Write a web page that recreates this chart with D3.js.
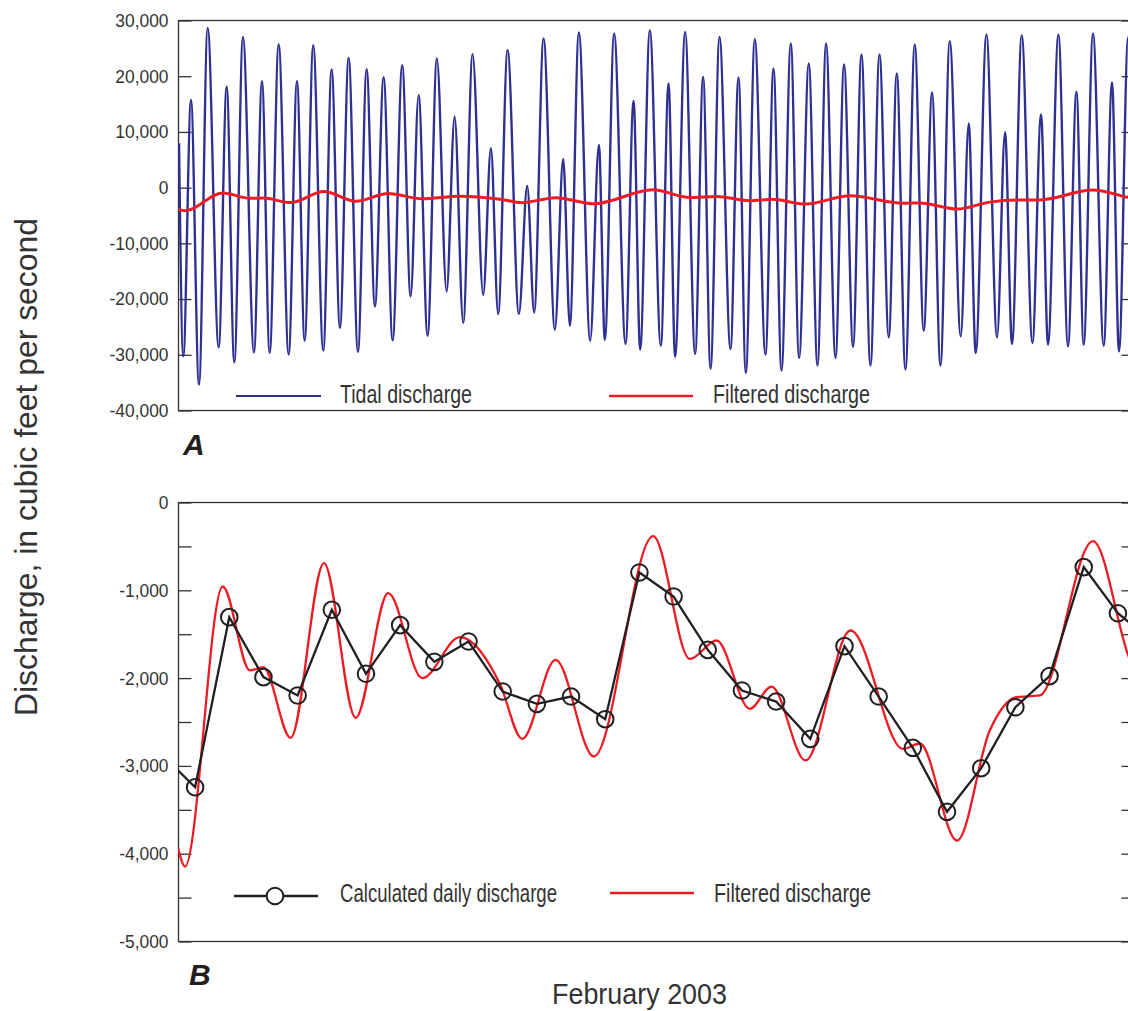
<!DOCTYPE html>
<html>
<head>
<meta charset="utf-8">
<script src="https://cdn.jsdelivr.net/npm/d3@7"></script>
<style>
  body { margin: 0; background: #fff; }
  svg { display: block; }
  text { font-family: "Liberation Sans", Arial, sans-serif; fill: #333; }
</style>
</head>
<body>
<script>
// tidal discharge, highs and lows (days after Feb 1 00:00, ft3/s)
const tideDay = [0.03, 0.155, 0.38, 0.614, 0.869, 1.19, 1.424, 1.647, 1.901, 2.223, 2.457, 2.682, 2.945, 3.238, 3.481, 3.706, 3.957, 4.25, 4.495, 4.738, 4.993, 5.265, 5.519, 5.762, 6.016, 6.28, 6.56, 6.806, 7.04, 7.303, 7.575, 7.859, 8.093, 8.345, 8.619, 8.93, 9.155, 9.368, 9.643, 9.974, 10.217, 10.421, 10.696, 11.027, 11.27, 11.465, 11.729, 12.06, 12.314, 12.489, 12.761, 13.095, 13.329, 13.522, 13.805, 14.127, 14.352, 14.545, 14.838, 15.13, 15.364, 15.581, 15.844, 16.165, 16.399, 16.613, 16.876, 17.189, 17.423, 17.657, 17.929, 18.172, 18.456, 18.71, 18.962, 19.237, 19.488, 19.751, 19.997, 20.26, 20.524, 20.796, 21.03, 21.284, 21.556, 21.819, 22.062, 22.308, 22.58, 22.902, 23.135, 23.34, 23.653, 23.963, 24.197, 24.402, 24.686, 24.999, 25.25, 25.455, 25.759, 26.04, 26.286, 26.499, 26.771, 27.084, 27.327, 27.532, 27.8, 28.1]
const tideQ = [7960, -30290, 15720, -35360, 28670, -28670, 18100, -31360, 27060, -29570, 19120, -29680, 25750, -29980, 19120, -27470, 25570, -29260, 21220, -25200, 23300, -29500, 21270, -21320, 19840, -27420, 21990, -19530, 16610, -26580, 23190, -18640, 12720, -24300, 23960, -19230, 7060, -22690, 24680, -22690, 300, -22400, 26770, -25500, 5140, -24780, 27850, -27470, 7650, -27290, 27670, -28060, 15540, -29080, 28260, -28370, 18710, -30390, 27960, -29860, 19890, -32490, 27060, -28960, 19780, -33260, 26650, -29980, 21400, -32850, 25880, -30570, 22290, -31950, 25880, -30570, 22110, -28600, 23900, -31950, 23900, -26880, 20500, -32670, 25700, -25680, 17100, -31950, 26290, -26700, 11540, -29680, 27490, -26880, 9930, -28060, 27360, -27880, 13150, -28190, 27490, -28490, 17200, -28190, 27670, -28370, 18890, -29390, 27000, -29000]

// filtered discharge, turning points
const filtDay = [0.01, 0.205, 1.307, 2.106, 2.495, 3.296, 4.27, 5.197, 6.151, 7.145, 8.248, 9.418, 10.07, 11.047, 12.167, 13.902, 14.975, 15.756, 16.73, 17.365, 18.359, 19.676, 21.214, 21.703, 22.793, 23.75, 24.53, 25.212, 26.771, 27.786, 28.1]
const filtQ = [-3945, -4146, -957, -1913, -1876, -2680, -691, -2452, -1033, -2001, -1534, -2065, -2692, -1792, -2893, -384, -1781, -1572, -2350, -2096, -2938, -1458, -2806, -2745, -3850, -2597, -2218, -2198, -441, -1723, -2050]

// calculated daily discharge, Feb 1 .. Feb 28 (plotted at noon)
const dailyQ = [-3243, -1306, -1989, -2198, -1222, -1951, -1397, -1815, -1583, -2153, -2293, -2210, -2468, -797, -1071, -1678, -2141, -2267, -2692, -1636, -2210, -2794, -3523, -3026, -2332, -1977, -736, -1261]
const jan31Q = -2860
const mar1Q = -1582

const topTicks = [30000, 20000, 10000, 0, -10000, -20000, -30000, -40000]
const botTicks = d3.range(0, -5001, -500)

const W = 1128, H = 1011
const X0 = 178, X1 = 1135
const BLUE = '#2e3192', RED = '#ed1c24', BLACK = '#231f20', FRAME = '#333'

const svg = d3.select('body').append('svg')
    .attr('width', W)
    .attr('height', H)

const day0 = new Date(2003, 1, 1)
const toDate = d => new Date(+day0 + d * 864e5)

const x = d3.scaleTime()
    .domain([day0, new Date(2003, 2, 1)])
    .range([X0, X1])

const yTop = d3.scaleLinear().domain([-40000, 30000]).range([410.5, 20.5])
const yBot = d3.scaleLinear().domain([-5000, 0]).range([941.5, 502.5])

const fmt = v => d3.format(',')(v).replace('\u2212', '-')

// squeeze a text horizontally so it looks like the condensed face of the original
function squeeze(sel, k) {
    sel.each(function() {
        const w = this.getComputedTextLength()
        if (w > 0) d3.select(this).attr('textLength', w * k).attr('lengthAdjust', 'spacingAndGlyphs')
    })
}

function label(xp, yp, size, str, width) {
    const t = svg.append('text').attr('x', xp).attr('y', yp).attr('font-size', size).text(str)
    if (width) t.attr('textLength', width).attr('lengthAdjust', 'spacingAndGlyphs')
    return t
}

function panel(y, ticks, labelFmt, id) {
    const [yb, yt] = y.range()
    svg.append('clipPath').attr('id', id)
        .append('rect').attr('x', X0).attr('y', yt).attr('width', X1 - X0).attr('height', yb - yt)

    // left axis, ticks pointing inward
    const gl = svg.append('g')
        .attr('transform', `translate(${X0 + 0.5},0)`)
        .call(d3.axisLeft(y).tickValues(ticks).tickSize(-13).tickSizeOuter(0).tickPadding(10).tickFormat(labelFmt))
    gl.select('.domain').remove()
    gl.selectAll('line').attr('stroke', FRAME).attr('stroke-width', 1.3)
    gl.selectAll('text').attr('font-size', 18.5).style('fill', '#333')
        .style('font-family', '"Liberation Sans", Arial, sans-serif')
    squeeze(gl.selectAll('text'), 0.94)

    const gr = svg.append('g')
        .attr('transform', `translate(${X1 - 0.5},0)`)
        .call(d3.axisRight(y).tickValues(ticks).tickSize(-13).tickSizeOuter(0).tickFormat(''))
    gr.select('.domain').remove()
    gr.selectAll('line').attr('stroke', FRAME).attr('stroke-width', 1.3)

    svg.append('rect')
        .attr('x', X0 + 0.5).attr('y', yt).attr('width', X1 - X0 - 1).attr('height', yb - yt)
        .attr('fill', 'none').attr('stroke', FRAME).attr('stroke-width', 1.3)

    return svg.append('g').attr('clip-path', `url(#${id})`)
}

// ---- panel A
const gA = panel(yTop, topTicks, fmt, 'clipA')

const tideLine = d3.line()
    .x((d, i) => x(toDate(tideDay[i])))
    .y(d => yTop(d))
    .curve(d3.curveMonotoneX)

gA.append('path')
    .attr('d', tideLine(tideQ))
    .attr('fill', 'none').attr('stroke', BLUE).attr('stroke-width', 2.4)

const filtTop = d3.line()
    .x((d, i) => x(toDate(filtDay[i])))
    .y(d => yTop(d))
    .curve(d3.curveMonotoneX)

gA.append('path')
    .attr('d', filtTop(filtQ))
    .attr('fill', 'none').attr('stroke', RED).attr('stroke-width', 3)

// legend A
svg.append('line').attr('x1', 236).attr('x2', 321).attr('y1', 396).attr('y2', 396)
    .attr('stroke', BLUE).attr('stroke-width', 2.2)
label(340, 403, 25, 'Tidal discharge', 132)
svg.append('line').attr('x1', 609).attr('x2', 693).attr('y1', 396).attr('y2', 396)
    .attr('stroke', RED).attr('stroke-width', 2.5)
label(713, 403, 25, 'Filtered discharge', 157)

svg.append('text').attr('x', 183).attr('y', 455)
    .attr('font-size', 30).attr('font-weight', 'bold').attr('font-style', 'italic')
    .style('fill', '#231f20')
    .text('A')

// ---- panel B
const gB = panel(yBot, botTicks, v => v % 1000 === 0 ? fmt(v) : '', 'clipB')

const filtBot = d3.line()
    .x((d, i) => x(toDate(filtDay[i])))
    .y(d => yBot(d))
    .curve(d3.curveMonotoneX)

gB.append('path')
    .attr('d', filtBot(filtQ))
    .attr('fill', 'none').attr('stroke', RED).attr('stroke-width', 2.3)

const dailyPts = [[-0.5, jan31Q]]
    .concat(dailyQ.map((q, i) => [i + 0.5, q]))
    .concat([[28.5, mar1Q]])

gB.append('path')
    .attr('d', d3.line().x(d => x(toDate(d[0]))).y(d => yBot(d[1]))(dailyPts))
    .attr('fill', 'none').attr('stroke', BLACK).attr('stroke-width', 2.3)

gB.selectAll('circle.day')
    .data(dailyQ)
    .join('circle')
    .attr('class', 'day')
    .attr('cx', (d, i) => x(toDate(i + 0.5)))
    .attr('cy', d => yBot(d))
    .attr('r', 8.3)
    .attr('fill', 'none').attr('stroke', BLACK).attr('stroke-width', 2)

// legend B
svg.append('line').attr('x1', 234).attr('x2', 318).attr('y1', 896).attr('y2', 896)
    .attr('stroke', BLACK).attr('stroke-width', 2.3)
svg.append('circle').attr('cx', 275).attr('cy', 896).attr('r', 8.3)
    .attr('fill', '#fff').attr('stroke', BLACK).attr('stroke-width', 2)
label(340, 902, 25, 'Calculated daily discharge', 217)
svg.append('line').attr('x1', 610).attr('x2', 694).attr('y1', 893).attr('y2', 893)
    .attr('stroke', RED).attr('stroke-width', 2.3)
label(714, 902, 25, 'Filtered discharge', 157)

svg.append('text').attr('x', 189).attr('y', 985)
    .attr('font-size', 30).attr('font-weight', 'bold').attr('font-style', 'italic')
    .style('fill', '#231f20')
    .text('B')

// axis titles
label(552, 1004, 29, 'February 2003', 175)

svg.append('text')
    .attr('transform', 'translate(37,716) rotate(-90)')
    .attr('font-size', 31)
    .attr('textLength', 498).attr('lengthAdjust', 'spacingAndGlyphs')
    .text('Discharge, in cubic feet per second')
</script>
</body>
</html>
